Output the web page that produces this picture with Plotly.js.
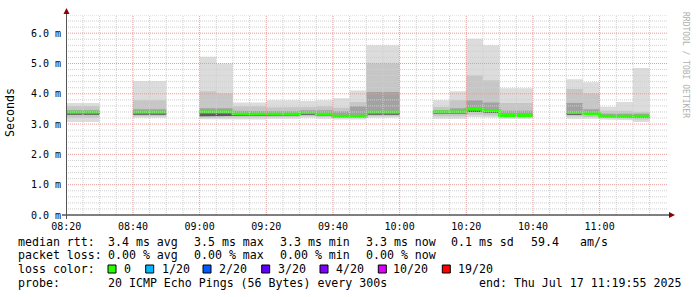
<!DOCTYPE html>
<html><head><meta charset="utf-8">
<script src="https://cdn.plot.ly/plotly-3.0.1.min.js"></script>
<style>html,body{margin:0;padding:0;background:#fff}#chart{width:697px;height:297px}</style>
</head><body><div id="chart"></div>
<script>
// ---- data (5-minute bins, ms) ----
const binStarts = ['08:20','08:25','08:30','08:35','08:40','08:45','08:50','08:55',
  '09:00','09:05','09:10','09:15','09:20','09:25','09:30','09:35','09:40','09:45','09:50','09:55',
  '10:00','10:05','10:10','10:15','10:20','10:25','10:30','10:35','10:40','10:45','10:50','10:55',
  '11:00','11:05','11:10','11:15'];
const smokeMax = [3.70,3.70,null,null,4.42,4.42,null,null,5.22,5.00,3.71,3.71,3.79,3.79,3.76,3.79,3.85,4.11,5.60,5.60,
  null,null,3.79,4.08,5.82,5.60,4.18,4.18,null,null,4.48,4.38,3.57,3.73,4.85,null];
const smokeUp2 = [3.59,3.59,null,null,3.79,3.79,null,null,4.08,4.01,3.59,3.59,3.55,3.55,3.56,3.59,3.54,3.73,5.00,5.00,
  null,null,3.56,3.79,4.61,4.45,3.70,3.70,null,null,4.16,4.01,3.44,3.44,3.41,null];
const smokeUp3 = [3.46,3.46,null,null,3.49,3.49,null,null,3.52,3.52,3.44,3.44,3.42,3.42,3.46,3.46,3.42,3.59,4.06,4.06,
  null,null,3.46,3.52,3.79,3.71,3.44,3.44,null,null,3.70,3.49,3.34,3.34,3.34,null];
const medianRtt = [3.39,3.39,null,null,3.39,3.39,null,null,3.40,3.40,3.34,3.34,3.33,3.33,3.38,3.33,3.26,3.26,3.39,3.39,
  null,null,3.40,3.40,3.49,3.44,3.28,3.28,null,null,3.38,3.35,3.26,3.26,3.26,null];
const smokeLo3 = [3.31,3.31,null,null,3.31,3.31,null,null,3.26,3.26,3.28,3.28,3.28,3.28,3.31,3.28,3.23,3.23,3.31,3.31,
  null,null,3.34,3.34,3.40,3.37,3.26,3.26,null,null,3.31,3.30,3.23,3.23,3.21,null];
const smokeLo2 = [3.21,3.21,null,null,3.26,3.26,null,null,3.21,3.21,3.21,3.21,3.23,3.23,3.26,3.23,3.20,3.20,3.26,3.26,
  null,null,3.26,3.26,3.31,3.28,3.21,3.21,null,null,3.26,3.23,3.20,3.18,3.15,null];
const smokeMin = [3.07,3.07,null,null,3.21,3.21,null,null,3.16,3.16,3.15,3.15,3.18,3.18,3.21,3.18,3.15,3.15,3.21,3.21,
  null,null,3.18,3.18,3.23,3.21,3.18,3.18,null,null,3.18,3.18,3.15,3.13,3.07,null];
const yTickVals = [0,1,2,3,4,5,6];
const yTickText = ['0.0 m','1.0 m','2.0 m','3.0 m','4.0 m','5.0 m','6.0 m'];
const xTickText = ['08:20','08:40','09:00','09:20','09:40','10:00','10:20','10:40','11:00'];
const lossLabels = ['0','1/20','2/20','3/20','4/20','10/20','19/20'];
const lossColors = ['#26ff00','#00b8ff','#0059ff','#5e00ff','#7e00ff','#dd00ff','#ff0000'];
const statsRtt = ['median rtt:','3.4 ms avg','3.5 ms max','3.3 ms min','3.3 ms now','0.1 ms sd','59.4','am/s'];
const statsLoss = ['packet loss:','0.00 % avg','0.00 % max','0.00 % min','0.00 % now'];
const probeText = ['probe:','20 ICMP Echo Pings (56 Bytes) every 300s','end: Thu Jul 17 11:19:55 2025'];

// ---- helpers ----
const DAY = '2025-07-17 ';
const pad = n => String(n).padStart(2,'0');
function addMin(hhmm, m){const [h,mm]=hhmm.split(':').map(Number);const t=h*60+mm+m;return pad(Math.floor(t/60))+':'+pad(t%60);}
const D = hhmm => DAY + hhmm + ':00';
const L=66, T=15, W=600, H=200;
const px = x => (x-L)/W;
const py = y => (T+H-y)/H;
const MONO = 'DejaVu Sans Mono';

// contiguous runs
const runs=[]; let cur=null;
binStarts.forEach((b,i)=>{ if(smokeMax[i]!=null){ if(!cur){cur=[];runs.push(cur);} cur.push(i);} else cur=null; });

const traces=[];
const bands=[[smokeMax,smokeMin,'#dcdcdc'],[smokeUp2,smokeLo2,'#c6c6c6'],[smokeUp3,smokeLo3,'#a2a2a2']];
bands.forEach(([hi,lo,col])=>{
  runs.forEach(r=>{
    const xs=[],ys=[];
    r.forEach(i=>{xs.push(D(binStarts[i]),D(addMin(binStarts[i],5)));ys.push(hi[i],hi[i]);});
    r.slice().reverse().forEach(i=>{xs.push(D(addMin(binStarts[i],5)),D(binStarts[i]));ys.push(lo[i],lo[i]);});
    traces.push({x:xs,y:ys,type:'scatter',mode:'lines',fill:'toself',fillcolor:col,line:{width:0,color:col},hoverinfo:'skip',showlegend:false});
  });
});
// dark core just below the median
runs.forEach(r=>{
  const xs=[],ys=[];
  r.forEach(i=>{xs.push(D(binStarts[i]),D(addMin(binStarts[i],5)));ys.push(medianRtt[i],medianRtt[i]);});
  r.slice().reverse().forEach(i=>{xs.push(D(addMin(binStarts[i],5)),D(binStarts[i]));ys.push(smokeLo3[i],smokeLo3[i]);});
  traces.push({x:xs,y:ys,type:'scatter',mode:'lines',fill:'toself',fillcolor:'#5a5a5a',line:{width:0,color:'#5a5a5a'},hoverinfo:'skip',showlegend:false});
});
runs.forEach(r=>{
  const xs=[],ys=[];
  r.forEach(i=>{xs.push(D(binStarts[i]),D(addMin(binStarts[i],5)));ys.push(medianRtt[i],medianRtt[i]);});
  traces.push({x:xs,y:ys,type:'scatter',mode:'lines',line:{width:3,color:lossColors[0]},hoverinfo:'skip',showlegend:false});
});

// ---- grid (drawn above smoke, like rrdtool) ----
const shapes=[];
for(let m=5;m<=175;m+=5){
  const major = m%20===0;
  shapes.push({type:'line',layer:'above',xref:'x',yref:'paper',x0:D(addMin('08:20',m)),x1:D(addMin('08:20',m)),y0:0,y1:1,
    line:{color:major?'#e99a9a':'#cfcfcf',width:1,dash:'1px,1px'}});
}
for(let k=1;k<=33;k++){
  const v=Math.round(k*2)/10; const major=k%5===0;
  shapes.push({type:'line',layer:'above',xref:'paper',yref:'y',x0:0,x1:px(668),y0:v,y1:v,
    line:{color:major?'#e99a9a':'#cfcfcf',width:1,dash:'1px,1px'}});
}
// axes with arrows
shapes.push({type:'line',layer:'above',xref:'paper',yref:'paper',x0:px(62),x1:px(670),y0:py(215),y1:py(215),line:{color:'#000',width:1}});
shapes.push({type:'line',layer:'above',xref:'paper',yref:'paper',x0:px(66.5),x1:px(66.5),y0:py(219),y1:py(12),line:{color:'#555',width:1}});
shapes.push({type:'path',layer:'above',xref:'paper',yref:'paper',
  path:`M ${px(669)} ${py(212)} L ${px(675)} ${py(215)} L ${px(669)} ${py(218)} Z`,fillcolor:'#8b0000',line:{width:0}});
shapes.push({type:'path',layer:'above',xref:'paper',yref:'paper',
  path:`M ${px(63.5)} ${py(14)} L ${px(66.5)} ${py(8)} L ${px(69.5)} ${py(14)} Z`,fillcolor:'#8b0000',line:{width:0}});

// legend squares
const sqX=[108,145.7,203,261.7,320,378.3,442.3];
const labX=[123.3,160.7,218.3,276.7,335,391.7,456.7];
const annotations=[];
lossColors.forEach((c,i)=>{
  shapes.push({type:'rect',layer:'above',xref:'paper',yref:'paper',x0:px(sqX[i]),x1:px(sqX[i]+8),y0:py(273),y1:py(265),fillcolor:c,line:{color:'#000',width:1}});
  annotations.push({text:lossLabels[i],x:px(labX[i]),y:py(269)});
});
const rttX=[16.7,107.3,193.3,279.3,365,450,530,579.3];
statsRtt.forEach((t,i)=>annotations.push({text:t,x:px(rttX[i]),y:py(241.5)}));
statsLoss.forEach((t,i)=>annotations.push({text:t,x:px(rttX[i]),y:py(255)}));
annotations.push({text:'loss color:',x:px(16.7),y:py(269)});
const probeX=[16.7,107.3,478];
probeText.forEach((t,i)=>annotations.push({text:t,x:px(probeX[i]),y:py(283)}));
annotations.forEach(a=>Object.assign(a,{xref:'paper',yref:'paper',xanchor:'left',yanchor:'middle',showarrow:false,borderpad:0,
  font:{family:MONO,size:11.6,color:'#000'}}));
annotations.push({text:'Seconds',xref:'paper',yref:'paper',x:px(10),y:py(113),textangle:-90,showarrow:false,xanchor:'center',yanchor:'middle',
  font:{family:MONO,size:11.6,color:'#000'}});
annotations.push({text:'RRDTOOL / TOBI OETIKER',xref:'paper',yref:'paper',x:px(686),y:py(65),textangle:90,showarrow:false,xanchor:'center',yanchor:'middle',
  font:{family:MONO,size:8,color:'#b0b0b0'}});

const xTickVals = xTickText.map(D);
const layout={
  width:697,height:297,margin:{l:L,r:697-L-W,t:T,b:297-T-H,pad:0},
  paper_bgcolor:'#fff',plot_bgcolor:'#fff',showlegend:false,
  xaxis:{type:'date',range:[DAY+'08:19:55',DAY+'11:19:55'],tickmode:'array',tickvals:xTickVals,ticktext:xTickText,
    showgrid:false,zeroline:false,showline:false,ticks:'',tickfont:{family:MONO,size:10,color:'#000'},ticklabelstandoff:4,fixedrange:true},
  yaxis:{range:[0,6.6],tickmode:'array',tickvals:yTickVals,ticktext:yTickText,showgrid:false,zeroline:false,showline:false,ticks:'',
    tickfont:{family:MONO,size:10,color:'#000'},ticklabelstandoff:4,fixedrange:true},
  shapes,annotations
};
Plotly.newPlot('chart',traces,layout,{displayModeBar:false,staticPlot:true});
</script></body></html>
